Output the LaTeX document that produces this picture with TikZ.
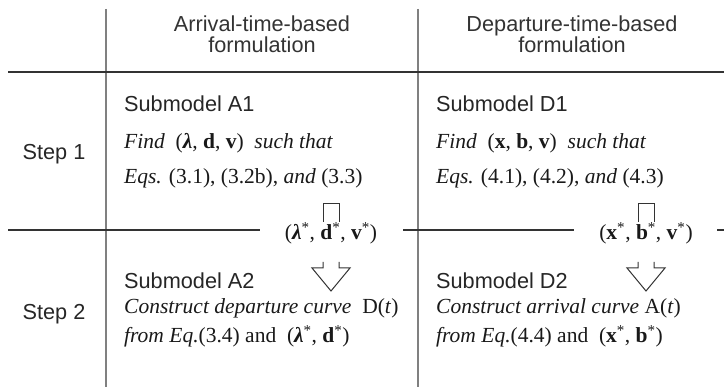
\documentclass[tikz,border=0pt]{standalone}
\usepackage{fontspec}
\setmainfont{Liberation Serif}
\setsansfont{Liberation Sans}
\newcommand{\bv}[1]{\textbf{#1}}
\newcommand{\bl}{\textbf{\textit{λ}}}
\newcommand{\st}{\textsuperscript{*}}
\begin{document}
\begin{tikzpicture}[x=1pt,y=-1pt,
  rule/.style={line width=1.3pt,draw=black!80},
  colrule/.style={line width=1.3pt,draw=black!50},
  head/.style={font=\sffamily\fontsize{21.7}{21}\selectfont,text=black!80,align=center,anchor=base,inner sep=0pt},
  steplabel/.style={font=\sffamily\fontsize{21.7}{25}\selectfont,text=black!85,anchor=base,inner sep=0pt},
  title/.style={font=\sffamily\fontsize{21.7}{25}\selectfont,text=black!85,anchor=base west,inner sep=0pt},
  body/.style={font=\fontsize{21.5}{25}\selectfont,text=black!90,anchor=base west,inner sep=0pt},
  result/.style={font=\fontsize{21.5}{25}\selectfont,text=black!90,anchor=base,inner sep=0pt},
  flow/.style={line width=1pt,draw=black!80,line join=miter}]
\useasboundingbox (0,0) rectangle (724,387);

% table rules
\draw[colrule] (106,9) -- (106,387);
\draw[colrule] (418,9) -- (418,387);
\draw[rule] (8,72) -- (724,72);
\draw[rule] (8,230) -- (260,230);
\draw[rule] (403,230) -- (574,230);
\draw[rule] (717,230) -- (724,230);

% column headings (anchored on the baseline of the second line)
\node[head] (hA) at (262,53) {Arrival-time-based\\formulation};
\node[head] (hD) at (572,53) {Departure-time-based\\formulation};

% row headings
\node[steplabel] (s1) at (54,160) {Step 1};
\node[steplabel] (s2) at (54,320) {Step 2};

% arrival-time-based column
\node[title] (a1) at (124,112) {Submodel A1};
\node[body] (a1f) at (124,149) {\textit{Find}\enspace(\bl, \bv{d}, \bv{v})\enspace\textit{such that}};
\node[body] (a1e) at (124,184) {\textit{Eqs.} (3.1), (3.2b), \textit{and} (3.3)};
\node[result] (ra) at (331,240) {(\bl\st, \bv{d}\st, \bv{v}\st)};
\node[title] (a2) at (124,289) {Submodel A2};
\node[body] (a2c) at (124,314) {\textit{Construct departure curve}\enspace D(\textit{t})};
\node[body] (a2f) at (124,343) {\textit{from Eq.}(3.4) and\enspace(\bl\st, \bv{d}\st)};

% departure-time-based column
\node[title] (d1) at (436,112) {Submodel D1};
\node[body] (d1f) at (436,149) {\textit{Find}\enspace(\bv{x}, \bv{b}, \bv{v})\enspace\textit{such that}};
\node[body] (d1e) at (436,184) {\textit{Eqs.} (4.1), (4.2), \textit{and} (4.3)};
\node[result] (rd) at (646,240) {(\bv{x}\st, \bv{b}\st, \bv{v}\st)};
\node[title] (d2) at (436,289) {Submodel D2};
\node[body] (d2c) at (436,314) {\textit{Construct arrival curve} A(\textit{t})};
\node[body] (d2f) at (436,343) {\textit{from Eq.}(4.4) and\enspace(\bv{x}\st, \bv{b}\st)};

% hollow flow arrows through the result labels
\draw[flow] (323,222) -- (323,204) -- (339,204) -- (339,222);
\draw[flow] (323,262) -- (323,268) -- (312,268) -- (331,291) -- (350,268) -- (339,268) -- (339,262);
\draw[flow] (638,222) -- (638,204) -- (654,204) -- (654,222);
\draw[flow] (638,262) -- (638,268) -- (627,268) -- (646,291) -- (665,268) -- (654,268) -- (654,262);
\end{tikzpicture}
\end{document}
